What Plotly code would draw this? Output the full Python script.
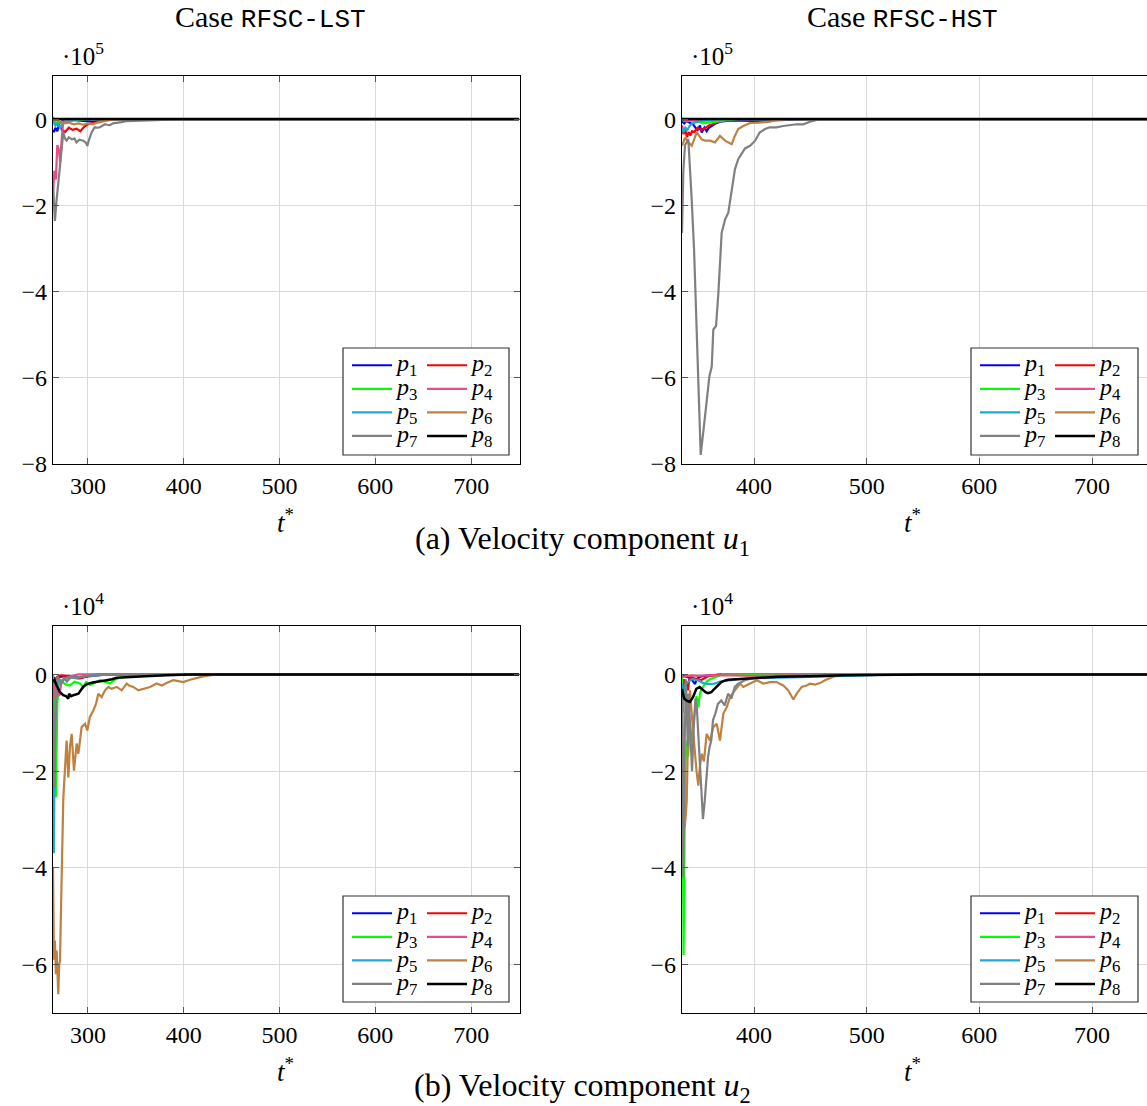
import plotly.graph_objects as go

# ---------------- data (values in units of the axis multiplier) ----------------
# (a) u1, case RFSC-LST  (x 1e5)
a1_t = {
    "p1": [263.5, 264.5, 266, 268, 270, 273, 278, 285, 295, 305, 312, 320, 330, 750],
    "p2": [263.5, 266, 270, 273, 276, 280, 284, 288, 292, 296, 300, 305, 310, 318, 750],
    "p3": [263.5, 265, 267, 270, 275, 280, 290, 300, 750],
    "p4": [263.5, 265, 266.5, 268, 269.5, 271, 272.5, 274, 276, 280, 290, 750],
    "p5": [263.5, 266, 268, 271, 274, 280, 290, 750],
    "p6": [263.5, 270, 275, 280, 285, 290, 295, 300, 305, 310, 315, 320, 330, 750],
    "p7": [263.5, 265.5, 267.3, 269, 270.8, 272.5, 274.2, 276, 277.7, 280, 283, 286, 288, 291, 295, 298,
           299.3, 301.5, 303.8, 307, 310, 312.5, 315, 317.8, 320, 323, 326, 330, 335, 340, 350, 357, 370,
           385, 400, 750],
    "p8": [263.5, 300, 400, 750],
}
a1_v = {
    "p1": [-0.25, -0.3, -0.2, -0.28, -0.1, -0.05, -0.03, -0.02, -0.04, -0.06, -0.04, -0.02, 0, 0],
    "p2": [-0.05, -0.1, -0.15, -0.25, -0.3, -0.2, -0.25, -0.22, -0.28, -0.18, -0.12, -0.1, -0.06, 0, 0],
    "p3": [0.05, -0.05, -0.1, -0.08, -0.05, -0.03, -0.02, 0, 0],
    "p4": [-1.7, -1.2, -1.4, -0.6, -0.7, -1.0, -0.5, -0.1, -0.05, -0.03, 0, 0],
    "p5": [-0.05, -0.15, -0.1, -0.2, -0.08, -0.05, 0, 0],
    "p6": [-0.02, -0.05, -0.1, -0.08, -0.12, -0.1, -0.13, -0.1, -0.12, -0.08, -0.06, -0.03, 0, 0],
    "p7": [-1.5, -2.36, -1.86, -1.4, -1.09, -0.7, -0.31, -0.45, -0.5, -0.42, -0.47, -0.45, -0.54, -0.48,
           -0.5, -0.55, -0.62, -0.45, -0.31, -0.19, -0.2, -0.19, -0.15, -0.12, -0.13, -0.14, -0.1, -0.08,
           -0.07, -0.05, -0.04, -0.03, -0.02, -0.01, 0, 0],
    "p8": [0, 0, 0, 0],
}

# (a) u1, case RFSC-HST  (x 1e5)
a2_t = {
    "p1": [336.1, 338, 340, 343, 346, 348, 350, 352, 353.6, 356, 358, 360, 363, 366, 370, 380, 400, 420, 440, 450, 750],
    "p2": [336.1, 337.5, 339, 340.5, 342, 343.5, 345, 347, 350, 353, 356, 360, 365, 370, 380, 750],
    "p3": [336.1, 340, 345, 350, 355, 360, 365, 370, 375, 385, 750],
    "p4": [336.1, 338, 340, 345, 350, 360, 750],
    "p5": [336.1, 337.5, 339, 341, 343, 345, 348, 352, 360, 370, 750],
    "p6": [336.1, 337.3, 338.8, 341.7, 344.7, 349.2, 353.6, 356.5, 361, 365.4, 369.8, 374.3, 380.2, 383,
           386, 390.5, 396.5, 405, 414, 420, 430, 750],
    "p7": [336.1, 337.3, 338.8, 340.3, 341.7, 344.7, 346.8, 349.2, 352.7, 356.5, 360.4, 362.5, 363.9, 366.3,
           368.4, 371.3, 374.3, 377.2, 380.2, 383.1, 386, 389, 392, 396.5, 401, 405, 409.8, 414, 420, 426,
           432, 438, 443.7, 449.7, 455.6, 462, 750],
    "p8": [336.1, 400, 500, 750],
}
a2_v = {
    "p1": [-0.05, -0.1, -0.05, -0.08, -0.12, -0.2, -0.25, -0.15, -0.31, -0.2, -0.28, -0.2, -0.15, -0.1,
           -0.06, -0.03, -0.04, -0.03, -0.02, 0, 0],
    "p2": [-0.15, -0.35, -0.25, -0.42, -0.3, -0.38, -0.28, -0.3, -0.2, -0.25, -0.22, -0.15, -0.1, -0.05, 0, 0],
    "p3": [-0.02, -0.05, -0.03, -0.05, -0.1, -0.08, -0.06, -0.05, -0.03, 0, 0],
    "p4": [0.02, -0.03, -0.05, -0.02, -0.03, 0, 0],
    "p5": [-0.2, -0.3, -0.2, -0.25, -0.15, -0.1, -0.08, -0.05, -0.03, 0, 0],
    "p6": [-0.62, -0.55, -0.43, -0.54, -0.62, -0.31, -0.47, -0.5, -0.5, -0.54, -0.39, -0.5, -0.58, -0.39,
           -0.23, -0.16, -0.09, -0.08, -0.06, -0.02, 0, 0],
    "p7": [-2.64, -1.2, -0.6, -0.54, -0.47, -1.86, -3.02, -4.96, -7.79, -6.9, -5.97, -5.74, -4.88, -4.8,
           -4.03, -2.64, -2.33, -2.17, -1.63, -1.16, -0.93, -0.81, -0.68, -0.62, -0.5, -0.31, -0.23, -0.19,
           -0.19, -0.16, -0.14, -0.12, -0.12, -0.06, -0.02, 0, 0],
    "p8": [0, 0, 0, 0],
}

# (b) u2, case RFSC-LST  (x 1e4)
b1_t = {
    "p1": [263.5, 266, 270, 280, 290, 295, 300, 310, 320, 750],
    "p2": [263.5, 264.5, 266, 268, 272, 280, 288, 292, 296, 300, 310, 750],
    "p3": [263.5, 265, 266.5, 268, 270, 273, 276, 281, 286, 291.6, 295, 298, 302, 305.5, 309, 312.5, 316,
           319.5, 323, 328, 333, 340, 350, 360, 750],
    "p4": [263.5, 265, 266.5, 268, 270, 272, 275, 280, 290, 750],
    "p5": [263.5, 264.3, 265.5, 267, 270, 275, 280, 290, 300, 320, 750],
    "p6": [263.5, 264.5, 265.5, 266.5, 267.3, 268.2, 269, 270, 270.8, 271.7, 272.5, 273.3, 274.2, 275, 276,
           277, 277.7, 279.5, 281.2, 283, 285.4, 288.2, 290, 293.4, 297, 299.3, 302, 305.5, 308.4, 310.8,
           314.3, 317.8, 321.3, 324.7, 330, 335.2, 340.4, 343, 347.3, 352.5, 357.8, 364.8, 371.7, 377, 382,
           389, 394.3, 399.5, 406.5, 413.5, 420.4, 427, 435, 750],
    "p7": [263.5, 264.5, 265.2, 266, 267, 268, 270, 272, 275, 278, 282, 288, 295, 305, 320, 750],
    "p8": [263.5, 265, 267.3, 269, 270.8, 272.5, 274.2, 277, 279.5, 280.3, 281.2, 282.5, 284.7, 287, 290,
           292.5, 295, 297.5, 300.3, 305, 309, 314, 319.5, 325, 330, 340, 347, 360, 382, 406, 750],
}
b1_v = {
    "p1": [-0.05, -0.1, -0.05, -0.03, -0.08, -0.06, -0.04, -0.02, 0, 0],
    "p2": [-0.3, -0.5, -0.1, -0.05, -0.02, -0.03, -0.05, -0.08, -0.05, -0.02, 0, 0],
    "p3": [0, -1.0, -2.54, -0.6, -0.1, -0.15, -0.2, -0.23, -0.15, -0.19, -0.26, -0.16, -0.22, -0.19, -0.15,
           -0.12, -0.14, -0.16, -0.19, -0.11, -0.07, -0.05, -0.03, 0, 0],
    "p4": [-0.6, -0.2, -0.5, -0.3, -0.45, -0.2, -0.1, -0.05, 0, 0],
    "p5": [-1.5, -3.7, -1.2, -0.3, -0.15, -0.1, -0.08, -0.05, -0.03, 0, 0],
    "p6": [-4.0, -5.9, -5.5, -6.2, -5.71, -6.3, -6.61, -6.0, -5.92, -5.0, -3.99, -3.2, -2.61, -2.3, -1.99,
           -1.6, -1.37, -2.13, -1.5, -1.23, -1.99, -1.43, -1.64, -1.09, -1.02, -1.16, -0.88, -0.75, -0.61,
           -0.40, -0.47, -0.33, -0.26, -0.30, -0.26, -0.33, -0.19, -0.23, -0.26, -0.33, -0.30, -0.26, -0.19,
           -0.23, -0.18, -0.12, -0.14, -0.16, -0.11, -0.07, -0.04, -0.02, 0, 0],
    "p7": [-0.1, -1.5, -2.35, -1.0, -0.3, -0.05, -0.1, -0.2, -0.08, -0.15, -0.06, -0.08, -0.04, -0.02, 0, 0],
    "p8": [-0.15, -0.12, -0.23, -0.3, -0.37, -0.4, -0.43, -0.45, -0.5, -0.4, -0.42, -0.45, -0.43, -0.42,
           -0.40, -0.33, -0.26, -0.22, -0.19, -0.17, -0.16, -0.14, -0.12, -0.1, -0.07, -0.06, -0.05, -0.04,
           -0.02, 0, 0],
}

# (b) u2, case RFSC-HST  (x 1e4)
b2_t = {
    "p1": [336.1, 340, 344, 346, 347.7, 349, 352, 356, 362, 375, 750],
    "p2": [336.1, 337, 338, 339, 340, 341.4, 342.5, 344, 347, 350, 353, 356, 360, 370, 750],
    "p3": [336.1, 336.8, 337.5, 338.3, 339.2, 340.3, 341.5, 343.2, 344.5, 346, 347.5, 349, 350.6, 352,
           353.5, 355.6, 358, 361, 366, 372, 750],
    "p4": [336.1, 340, 345, 350, 360, 380, 400, 430, 460, 750],
    "p5": [336.1, 336.8, 337.5, 339, 342, 345, 350, 355, 360, 365, 370, 377, 385, 400, 420, 440, 470, 500,
           520, 750],
    "p6": [336.1, 337, 338.5, 339.5, 340.3, 341.5, 343.2, 345, 347.6, 349, 350.6, 352, 353.6, 355.5, 358,
           361, 363.9, 366.9, 369.8, 372.8, 375.8, 378.7, 383, 387.6, 390.5, 396.5, 402.4, 408.3, 414.2,
           420, 426, 430.4, 434.9, 437.9, 442.3, 446.8, 449.7, 454, 458.6, 463, 469, 473.4, 480, 750],
    "p7": [336.1, 336.7, 337.3, 338, 338.7, 339.5, 340.3, 341.2, 342, 343, 344, 345, 346.5, 348, 349.3,
           350.3, 351.8, 353.2, 354.7, 356.3, 357.7, 359.2, 360.6, 362.1, 363.6, 365.7, 368, 371, 374, 377,
           380, 383, 386, 392, 400.6, 415, 430, 450, 750],
    "p8": [336.1, 337, 338, 340, 343, 345.9, 348.8, 351.8, 354.7, 357, 359.2, 362.1, 364, 366.6, 369, 371,
           374, 377, 385, 391.7, 406, 421, 450, 480, 550, 750],
}
b2_v = {
    "p1": [-0.02, -0.05, -0.08, -0.15, -0.2, -0.1, -0.05, -0.03, -0.02, 0, 0],
    "p2": [-0.1, -0.3, -0.1, -0.4, -0.15, -0.33, -0.1, -0.05, -0.08, -0.1, -0.12, -0.08, -0.03, 0, 0],
    "p3": [0, -3.0, -5.8, -3.5, -1.8, -1.37, -1.7, -1.02, -1.4, -1.1, -0.7, -0.45, -0.68, -0.4, -0.3, -0.24,
           -0.15, -0.1, -0.05, 0, 0],
    "p4": [-0.05, -0.03, -0.02, -0.03, -0.02, -0.02, -0.03, -0.02, 0, 0],
    "p5": [-0.2, -0.8, -0.4, -0.2, -0.15, -0.1, -0.12, -0.18, -0.2, -0.19, -0.15, -0.12, -0.1, -0.08, -0.07,
           -0.06, -0.04, -0.02, 0, 0],
    "p6": [-0.5, -1.5, -3.16, -2.9, -2.61, -1.2, -0.33, -0.9, -1.71, -2.0, -2.3, -1.9, -1.64, -1.8, -1.23,
           -1.37, -1.09, -1.02, -1.37, -0.81, -0.68, -0.47, -0.33, -0.19, -0.26, -0.19, -0.12, -0.19, -0.16,
           -0.16, -0.23, -0.33, -0.52, -0.40, -0.26, -0.23, -0.19, -0.21, -0.18, -0.12, -0.06, -0.02, 0, 0],
    "p7": [-0.5, -2.5, -4.2, -2.0, -0.8, -0.1, -0.6, -1.5, -0.4, -0.9, -1.3, -2.0, -1.1, -0.5, -0.7, -1.09,
           -1.8, -2.47, -2.99, -2.61, -2.1, -1.71, -1.5, -1.37, -0.95, -0.81, -0.61, -0.54, -0.64, -0.40,
           -0.50, -0.26, -0.19, -0.12, -0.07, -0.05, -0.03, -0.01, 0],
    "p8": [-0.3, -0.4, -0.5, -0.54, -0.57, -0.47, -0.30, -0.26, -0.33, -0.37, -0.39, -0.37, -0.32, -0.26,
           -0.2, -0.16, -0.13, -0.11, -0.1, -0.09, -0.07, -0.05, -0.04, -0.02, 0, 0],
}

series_names = ["p1", "p2", "p3", "p4", "p5", "p6", "p7", "p8"]
series_labels = ["<span style='font-size:24px'><i>p</i><sub>%d</sub></span>" % i for i in range(1, 9)]
colors = ["#0000ff", "#ff0000", "#00ff00", "#ea4b8b", "#1eaad5", "#c08040", "#808080", "#000000"]

x_ticks_left = [300, 400, 500, 600, 700]
x_ticks_right = [400, 500, 600, 700]
y_ticks_top = [-8, -6, -4, -2, 0]
y_ticks_bottom = [-6, -4, -2, 0]
titles = ["Case <span style='font-family:Liberation Mono;font-size:26px'>RFSC-LST</span>",
          "Case <span style='font-family:Liberation Mono;font-size:26px'>RFSC-HST</span>"]
captions = ["(a) Velocity component <i>u</i><sub>1</sub>",
            "(b) Velocity component <i>u</i><sub>2</sub>"]
multipliers = ["·10<sup>5</sup>", "·10<sup>4</sup>"]

# ---------------- layout helpers (reference pixel coords -> paper) ----------------
W, H = 1147, 1119            # viewport appears slightly taller than the final picture
REF_W, REF_H = 1147, 1106
FONT = "Liberation Serif"


def px_x(x):
    return x / REF_W


def px_y(y):
    return 1 - y / REF_H


panels = [
    (a1_t, a1_v, (53, 520), (76, 464), [263.5, 751], [-8, 1], x_ticks_left, y_ticks_top, (343, 348, 509, 455)),
    (a2_t, a2_v, (682, 1147), (76, 464), [336.1, 748.8], [-8, 1], x_ticks_right, y_ticks_top, (971, 348, 1138, 455)),
    (b1_t, b1_v, (53, 520), (626, 1013), [263.5, 751], [-7, 1], x_ticks_left, y_ticks_bottom, (343, 896, 509, 1002)),
    (b2_t, b2_v, (682, 1147), (626, 1013), [336.1, 748.8], [-7, 1], x_ticks_right, y_ticks_bottom, (971, 896, 1138, 1002)),
]

fig = go.Figure()
layout = dict(
    width=W, height=H, margin=dict(l=0, r=0, t=0, b=0),
    paper_bgcolor="white", plot_bgcolor="white",
    font=dict(family=FONT, size=24, color="black"),
    showlegend=True,
)
shapes = []
annotations = []

for k, (dt, dv, xd, yd, xr, yr, xt, yt, box) in enumerate(panels):
    sfx = "" if k == 0 else str(k + 1)
    xa, ya = "x" + sfx, "y" + sfx
    leg1 = "legend" if k == 0 else "legend%d" % (2 * k + 1)
    leg2 = "legend%d" % (2 * k + 2)
    for i, name in enumerate(series_names):
        fig.add_trace(go.Scatter(
            x=dt[name], y=dv[name], mode="lines", name=series_labels[i],
            line=dict(color=colors[i], width=2.5 if name == "p8" else 2.2),
            xaxis=xa, yaxis=ya, legend=leg1 if i % 2 == 0 else leg2,
            showlegend=True,
        ))
    right = k in (1, 3)
    layout["xaxis" + sfx] = dict(
        domain=[px_x(xd[0]), px_x(xd[1])], range=xr, anchor=ya,
        tickvals=xt, ticks="inside", ticklen=6, tickcolor="#555",
        showgrid=True, gridcolor="#d9d9d9", gridwidth=1, zeroline=False,
        showline=True, linecolor="black", linewidth=1.2, mirror="allticks" if not right else True,
        tickfont=dict(family=FONT, size=24), ticklabelstandoff=0,
    )
    layout["yaxis" + sfx] = dict(
        domain=[px_y(yd[1]), px_y(yd[0])], range=yr, anchor=xa,
        tickvals=yt, ticks="inside", ticklen=6, tickcolor="#555",
        showgrid=True, gridcolor="#d9d9d9", gridwidth=1, zeroline=False,
        showline=True, linecolor="black", linewidth=1.2, mirror=False if right else "allticks",
        tickfont=dict(family=FONT, size=24), ticklabelstandoff=0,
    )
    # legend frame
    shapes.append(dict(type="rect", xref="paper", yref="paper", layer="above",
                       x0=px_x(box[0]), x1=px_x(box[2]), y0=px_y(box[3]), y1=px_y(box[1]),
                       line=dict(color="#333", width=1.2), fillcolor="white"))
    for j, leg in enumerate([leg1, leg2]):
        layout[leg] = dict(
            x=px_x(box[0] + 4 + 75 * j), y=px_y(box[1] + 0.5), xanchor="left", yanchor="top",
            bgcolor="rgba(0,0,0,0)", borderwidth=0, font=dict(family=FONT, size=15.8),
            itemwidth=40, tracegroupgap=0, itemclick=False, itemdoubleclick=False,
        )
    # multiplier label
    annotations.append(dict(text=multipliers[k // 2], xref="paper", yref="paper",
                            x=px_x(xd[0] + 7), y=px_y(yd[0] - 22), xanchor="left", yanchor="middle",
                            showarrow=False, font=dict(family=FONT, size=25)))
    # x-axis title
    annotations.append(dict(text="<i>t</i><sup>*</sup>", xref="paper", yref="paper",
                            x=px_x(285 if not right else 912), y=px_y(yd[1] + 57),
                            xanchor="center", yanchor="middle", showarrow=False,
                            font=dict(family=FONT, size=27)))

for c, tx in zip([270, 902], titles):
    annotations.append(dict(text=tx, xref="paper", yref="paper", x=px_x(c), y=px_y(17),
                            xanchor="center", yanchor="middle", showarrow=False,
                            font=dict(family=FONT, size=30)))
for yy, tx in zip([540, 1087], captions):
    annotations.append(dict(text=tx, xref="paper", yref="paper", x=px_x(583), y=px_y(yy),
                            xanchor="center", yanchor="middle", showarrow=False,
                            font=dict(family=FONT, size=32)))

layout["shapes"] = shapes
layout["annotations"] = annotations
fig.update_layout(**layout)
fig.write_html("out.html", config={"displayModeBar": False},
               post_script="document.body.style.margin='0px';document.body.style.overflow='hidden';")
